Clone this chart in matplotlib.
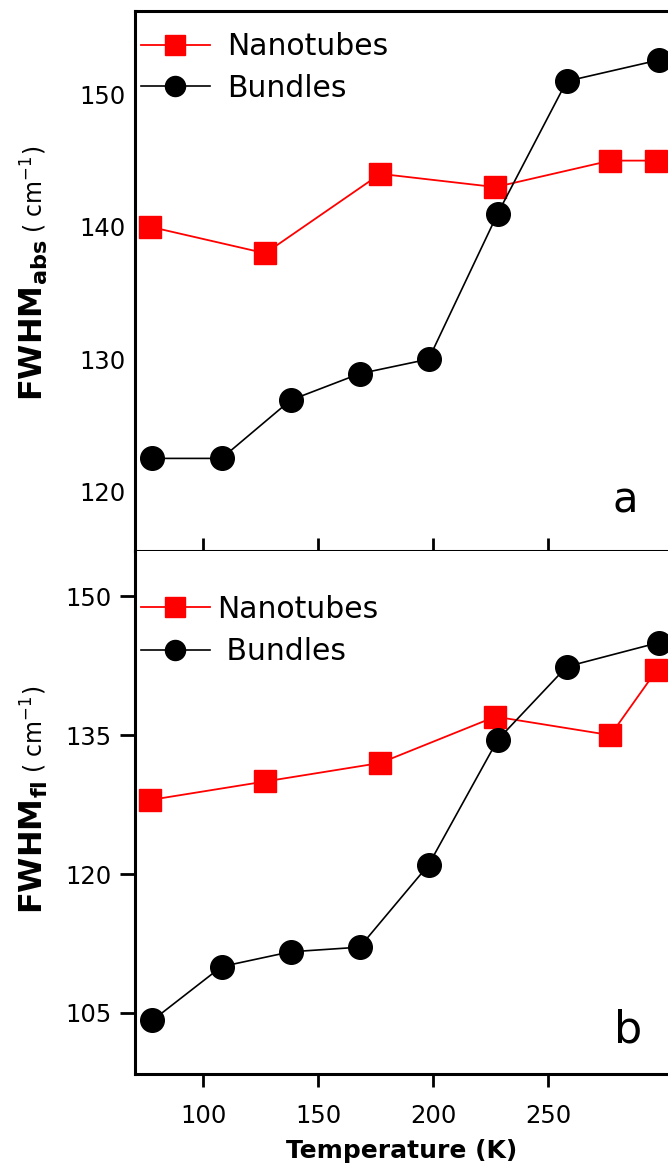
import numpy as np
import matplotlib
matplotlib.use("Agg")
import matplotlib.pyplot as plt

# temperature (K) and FWHM (cm^-1) for both panels
t_tubes = [77, 127, 177, 227, 277, 297]
t_bund = [78, 108, 138, 168, 198, 228, 258, 298]

abs_tubes = [140, 138, 144, 143, 145, 145]
abs_bund = [122.5, 122.5, 126.9, 128.9, 130, 141, 151, 152.6]

fl_tubes = [128, 130, 132, 137, 135, 142]
fl_bund = [104.2, 110, 111.6, 112.1, 121, 134.5, 142.4, 145]

plt.rcParams['font.family'] = 'DejaVu Sans'

fig = plt.figure(figsize=(6.68, 11.65), dpi=100, facecolor='white')
ax1 = fig.add_axes([0.2021, 0.527, 0.7979, 0.4635])
ax2 = fig.add_axes([0.2021, 0.0781, 0.7979, 0.449])

sq = dict(color='red', marker='s', markersize=16.5, lw=1.3, mec='red')
dot = dict(color='black', marker='o', markersize=17, lw=1.2)

# panel a: absorption
ax1.plot(t_tubes, abs_tubes, label='Nanotubes', **sq)
ax1.plot(t_bund, abs_bund, label='Bundles', **dot)
ax1.set_xlim(70.4, 302)
ax1.set_ylim(115.5, 156.3)
ax1.set_yticks([120, 130, 140, 150])
ax1.set_xticks([100, 150, 200, 250])
ax1.tick_params(axis='y', length=0, pad=7, labelsize=17.5)
ax1.tick_params(axis='x', direction='in', length=9.5, width=2, labelbottom=False)
ax1.spines['right'].set_visible(False)
for s in ['left', 'top', 'bottom']:
    ax1.spines[s].set_linewidth(2.2)
ax1.legend(loc='upper left', bbox_to_anchor=(0.0, 0.972), fontsize=21.5,
           frameon=False, borderpad=0.2, borderaxespad=0, markerscale=0.85,
           handlelength=2.3, handletextpad=0.6, labelspacing=0.42)
ax1.text(0.92, 0.072, 'a', transform=ax1.transAxes, fontsize=30, ha='center')

# panel b: fluorescence
ax2.plot(t_tubes, fl_tubes, label='Nanotubes', **sq)
ax2.plot(t_bund, fl_bund, label=' Bundles', **dot)
ax2.set_xlim(70.4, 302)
ax2.set_ylim(98.4, 154.9)
ax2.set_yticks([105, 120, 135, 150])
ax2.set_xticks([100, 150, 200, 250])
ax2.tick_params(axis='y', direction='out', length=11, width=2, pad=6, labelsize=17.5)
ax2.tick_params(axis='x', direction='out', length=9.5, width=2, pad=12, labelsize=17.5)
ax2.spines['right'].set_visible(False)
ax2.spines['top'].set_visible(False)
for s in ['left', 'bottom']:
    ax2.spines[s].set_linewidth(2.2)
ax2.legend(loc='upper left', bbox_to_anchor=(0.0, 0.928), fontsize=21.5,
           frameon=False, borderpad=0.2, borderaxespad=0, markerscale=0.85,
           handlelength=2.3, handletextpad=0.25, labelspacing=0.45)
ax2.text(0.925, 0.06, 'b', transform=ax2.transAxes, fontsize=32, ha='center')
ax2.set_xlabel('Temperature (K)', fontsize=18, fontweight='bold', labelpad=8)

# y labels: bold FWHM with subscript, smaller unit part
for y0, sub in [(0.794, 'abs'), (0.3305, 'fl')]:
    fig.text(0.0644, y0, r'FWHM$_{\mathbf{%s}}$' % sub, rotation=90,
             rotation_mode='anchor', ha='right', va='baseline',
             fontsize=23, fontweight='bold')
    fig.text(0.0644, y0 + 0.006, r'( cm$^{-1}$)', rotation=90,
             rotation_mode='anchor', ha='left', va='baseline', fontsize=17)

fig.savefig('out.png', dpi=100)
